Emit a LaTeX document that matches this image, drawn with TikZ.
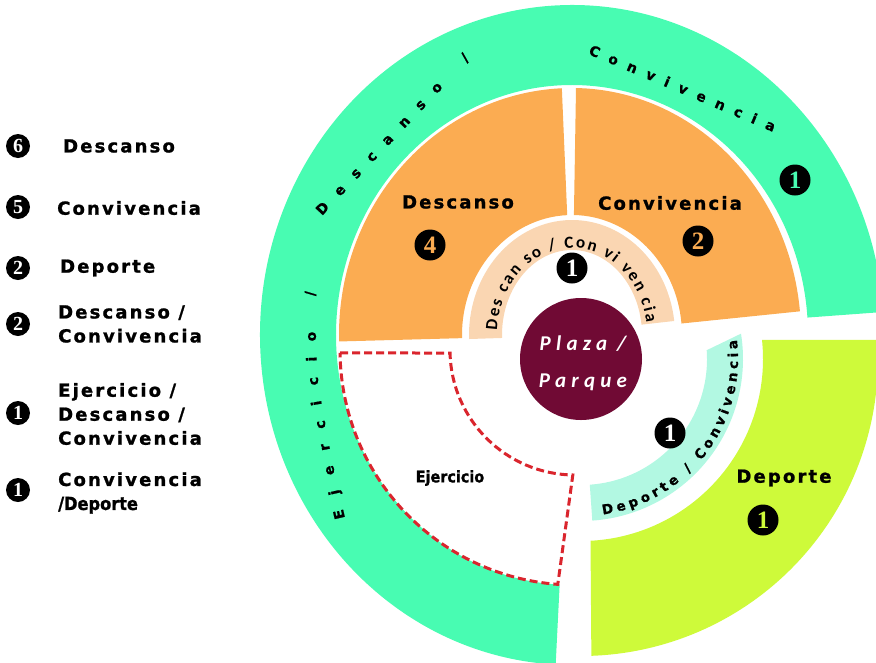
\documentclass[tikz,border=0pt]{standalone}
\usepackage{fontspec}
\usetikzlibrary{decorations.text}
\newfontfamily\lblfont[LetterSpace=12,FakeBold=1.2]{DejaVu Sans}
\newfontfamily\arcsans[FakeBold=1]{DejaVu Sans}
\newfontfamily\narrowfont[FakeStretch=0.9,FakeBold=1.2]{DejaVu Sans}
\newfontfamily\plazafont[LetterSpace=25]{Carlito}
\newfontfamily\arccal{Carlito}
\newfontfamily\numfont{Liberation Serif}
\newcommand{\tealarcfont}{\arcsans\bfseries\fontsize{14}{14}\selectfont}
\newcommand{\aquaarcfont}{\arcsans\bfseries\fontsize{13.5}{13.5}\selectfont}
\newcommand{\beigearcfont}{\arccal\bfseries\fontsize{17}{17}\selectfont}
\definecolor{ringteal}{RGB}{72,252,178}
\definecolor{secorange}{RGB}{251,172,82}
\definecolor{innerbeige}{RGB}{250,214,178}
\definecolor{deplime}{RGB}{206,250,58}
\definecolor{innaqua}{RGB}{178,248,226}
\definecolor{plazared}{RGB}{112,10,52}
\definecolor{ejred}{RGB}{218,37,45}

\begin{document}
\begin{tikzpicture}[x=1pt, y=1pt,
    num/.style={circle, fill=black, inner sep=0pt, minimum size=24, text=white,
        font=\numfont\bfseries\fontsize{20}{20}\selectfont},
    bignum/.style={num, minimum size=31, font=\numfont\bfseries\fontsize{25}{25}\selectfont},
    lbl/.style={inner sep=0pt, font=\lblfont\bfseries\fontsize{18}{24}\selectfont},
    legtxt/.style={lbl, anchor=west, align=left},
    narrow/.style={inner sep=0pt, font=\narrowfont\bfseries\fontsize{16}{16}\selectfont},
    plazatxt/.style={inner sep=0pt, align=center, text=white,
        font=\plazafont\bfseries\itshape\fontsize{21}{37}\selectfont},
    arctext/.style={decorate, decoration={text along path, text align={fit to path}, text={#1}}}
]
    \useasboundingbox (0,0) rectangle (876,-662);
    \coordinate (O) at (572,-335);
    \coordinate (P) at (581,-359);
    \coordinate (E) at (575,-350);

    % outer ring
    \fill[ringteal] ([shift={(4:312 and 330)}]O) arc[start angle=4, end angle=267, x radius=312, y radius=330]
        -- ([shift={(267:236 and 250)}]O) arc[start angle=267, end angle=4, x radius=236, y radius=250] -- cycle;

    % orange sectors
    \fill[secorange] ([shift={(92.5:233 and 247)}]O) arc[start angle=92.5, end angle=181.5, x radius=233, y radius=247]
        -- ([shift={(181.5:110 and 120)}]O) arc[start angle=181.5, end angle=92.5, x radius=110, y radius=120] -- cycle;
    \fill[secorange] ([shift={(5.5:229 and 247)}]O) arc[start angle=5.5, end angle=89, x radius=229, y radius=247]
        -- ([shift={(89:110 and 120)}]O) arc[start angle=89, end angle=5.5, x radius=110, y radius=120] -- cycle;

    % inner arcs
    \fill[innerbeige] ([shift={(7:103 and 115)}]O) arc[start angle=7, end angle=182, x radius=103, y radius=115]
        -- ([shift={(182:70 and 85)}]O) arc[start angle=182, end angle=7, x radius=70, y radius=85] -- cycle;
    \fill[innaqua] ([shift={(9:162)}]P) arc[start angle=9, end angle=-86, radius=162]
        -- ([shift={(-86:126)}]P) arc[start angle=-86, end angle=4, radius=126] -- cycle;

    % deporte sector
    \fill[deplime] ([shift={(6:182)}]P) -- ([shift={(3.7:297)}]P) arc[start angle=3.7, end angle=-88, radius=297]
        -- ([shift={(-87:182)}]P) arc[start angle=-87, end angle=6, radius=182] -- cycle;

    % ejercicio
    \draw[ejred, line width=3, dash pattern=on 8 off 4] ([shift={(180.7:235)}]E) -- ([shift={(181.4:125)}]E)
        arc[start angle=181.4, end angle=269, radius=125] -- ([shift={(265.8:235)}]E)
        arc[start angle=265.8, end angle=180.7, radius=235] -- cycle;

    % plaza
    \node[circle, fill=plazared, minimum size=122, inner sep=0pt] (plaza) at (P) {};
    \node[plazatxt] (plazalbl) at (583,-363) {Plaza /\\Parque};

    % texts on the arcs
    \path[arctext={|\tealarcfont|Ejercicio /}] plot[smooth] coordinates
        {(345,-518) (334,-470) (325,-423) (318,-380) (316,-340) (315,-291)};
    \path[arctext={|\tealarcfont|Descanso /}] (322,-216) -- (470,-59);
    \path[arctext={|\tealarcfont|Convivencia}] (588,-54) -- (773,-132);
    \path[arctext={|\beigearcfont|Des can so /  Con vi ven cia}]
        ([shift={(177:75 and 87)}]O) arc[start angle=177, end angle=8, x radius=75, y radius=87];
    \path[arctext={|\aquaarcfont|Deporte / Convivencia}]
        ([shift={(-82:157)}]P) arc[start angle=-82, end angle=7, radius=157];

    % labels in the sectors
    \node[lbl] (lDesc) at (458,-202) {Descanso};
    \node[bignum, text=secorange] (nDesc) at (430,-245) {4};
    \node[lbl] (lConv) at (670,-203) {Convivencia};
    \node[bignum, text=secorange] (nConv) at (698,-241) {2};
    \node[bignum, text=ringteal] (nTeal) at (795,-180) {1};
    \node[bignum] (nBeige) at (572,-268) {1};
    \node[bignum] (nAqua) at (670,-433) {1};
    \node[lbl] (lDep) at (784,-478) {Deporte};
    \node[bignum, text=deplime] (nDep) at (763,-520) {1};
    \node[narrow] (lEj) at (450,-478) {Ejercicio};

    % legend
    \node[num] (k6) at (18,-146) {6};
    \node[legtxt] (t6) at (63,-146) {Descanso};
    \node[num] (k5) at (18,-207) {5};
    \node[legtxt] (t5) at (57,-208) {Convivencia};
    \node[num] (k2a) at (18,-268) {2};
    \node[legtxt] (t2a) at (60,-268) {Deporte};
    \node[num] (k2b) at (18,-324) {2};
    \node[legtxt] (t2b) at (58,-324) {Descanso /\\Convivencia};
    \node[num] (k1a) at (18,-413) {1};
    \node[legtxt] (t1a) at (58,-414) {Ejercicio /\\Descanso /\\Convivencia};
    \node[num] (k1b) at (18,-490) {1};
    \node[legtxt] (t1b) at (58,-493) {Convivencia\\{\narrowfont\bfseries\fontsize{18}{24}\selectfont /Deporte}};
\end{tikzpicture}
\end{document}
